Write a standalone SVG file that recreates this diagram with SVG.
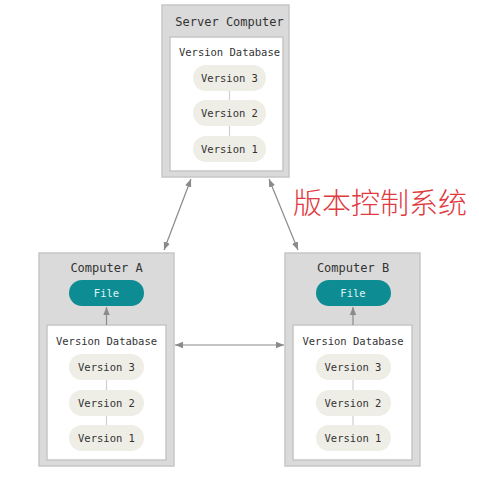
<svg xmlns="http://www.w3.org/2000/svg" width="479" height="480" viewBox="0 0 479 480">
<defs>
<style>
.outer{fill:#dadada;stroke:#c6c6c6;stroke-width:1.5}
.inner{fill:#ffffff;stroke:#c6c6c6;stroke-width:1.5}
.pill{fill:#eeede6}
.file{fill:#0e8c93}
.t{font-family:"DejaVu Sans Mono","Liberation Mono",monospace;fill:#333333;text-anchor:middle}
.title{font-size:12px}
.lbl{font-size:10.5px}
.ft{font-size:10.5px;fill:#dff3f3}
.link{stroke:#cfcfcf;stroke-width:1.2}
.arr{stroke:#8a8a88;stroke-width:1.2;fill:none}
.cn{font-family:"Noto Sans CJK SC",sans-serif;font-size:29px;font-weight:300;fill:#e0393e}
</style>
<marker id="ah" viewBox="0 0 10 10" refX="10" refY="5" markerWidth="8" markerHeight="8" orient="auto-start-reverse" markerUnits="userSpaceOnUse">
<path d="M0,1 L10,5 L0,9 z" fill="#8a8a88"/>
</marker>
</defs>
<rect width="479" height="480" fill="#ffffff"/>

<g id="server">
<rect class="outer" x="162" y="5" width="127" height="172"/>
<rect class="inner" x="170" y="37" width="113" height="134"/>
<text class="t title" x="229.5" y="26">Server Computer</text>
<text class="t lbl" x="229.5" y="56">Version Database</text>
<line class="link" x1="229.5" y1="91" x2="229.5" y2="100"/>
<line class="link" x1="229.5" y1="126" x2="229.5" y2="136"/>
<rect class="pill" x="193" y="65" width="73" height="26" rx="13"/>
<text class="t lbl" x="229.5" y="82">Version 3</text>
<rect class="pill" x="193" y="100" width="73" height="26" rx="13"/>
<text class="t lbl" x="229.5" y="117">Version 2</text>
<rect class="pill" x="193" y="136" width="73" height="26" rx="13"/>
<text class="t lbl" x="229.5" y="153">Version 1</text>
</g>

<g id="computerA">
<rect class="outer" x="39" y="253" width="135" height="213"/>
<rect class="inner" x="47" y="325" width="119" height="135"/>
<text class="t title" x="106.5" y="272">Computer A</text>
<rect class="file" x="69" y="280" width="75" height="26" rx="13"/>
<text class="t ft" x="106.5" y="297">File</text>
<text class="t lbl" x="106.5" y="345">Version Database</text>
<line class="link" x1="106.5" y1="380" x2="106.5" y2="390"/>
<line class="link" x1="106.5" y1="416" x2="106.5" y2="425"/>
<rect class="pill" x="69" y="354" width="75" height="26" rx="13"/>
<text class="t lbl" x="106.5" y="371">Version 3</text>
<rect class="pill" x="69" y="390" width="75" height="26" rx="13"/>
<text class="t lbl" x="106.5" y="407">Version 2</text>
<rect class="pill" x="69" y="425" width="75" height="26" rx="13"/>
<text class="t lbl" x="106.5" y="442">Version 1</text>
</g>

<g id="computerB">
<rect class="outer" x="285" y="253" width="135" height="213"/>
<rect class="inner" x="293" y="325" width="119" height="135"/>
<text class="t title" x="353" y="272">Computer B</text>
<rect class="file" x="316" y="280" width="75" height="26" rx="13"/>
<text class="t ft" x="353" y="297">File</text>
<text class="t lbl" x="353" y="345">Version Database</text>
<line class="link" x1="353" y1="380" x2="353" y2="390"/>
<line class="link" x1="353" y1="416" x2="353" y2="425"/>
<rect class="pill" x="316" y="354" width="75" height="26" rx="13"/>
<text class="t lbl" x="353" y="371">Version 3</text>
<rect class="pill" x="316" y="390" width="75" height="26" rx="13"/>
<text class="t lbl" x="353" y="407">Version 2</text>
<rect class="pill" x="316" y="425" width="75" height="26" rx="13"/>
<text class="t lbl" x="353" y="442">Version 1</text>
</g>

<g id="connectors">
<line class="arr" x1="191" y1="179" x2="164" y2="250" marker-start="url(#ah)" marker-end="url(#ah)"/>
<line class="arr" x1="269" y1="179" x2="298" y2="250" marker-start="url(#ah)" marker-end="url(#ah)"/>
<line class="arr" x1="175" y1="345" x2="284" y2="345" marker-start="url(#ah)" marker-end="url(#ah)"/>
<line class="arr" x1="106.5" y1="325" x2="106.5" y2="307" marker-end="url(#ah)"/>
<line class="arr" x1="353" y1="325" x2="353" y2="307" marker-end="url(#ah)"/>
</g>

<text id="label" class="cn" x="293" y="214">版本控制系统</text>
</svg>
